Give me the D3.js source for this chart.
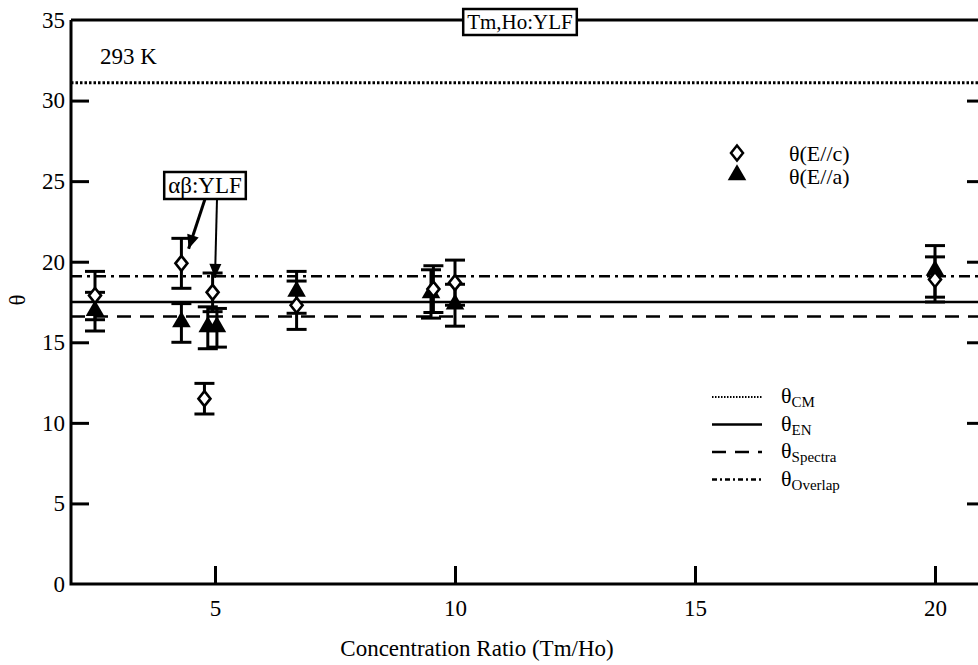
<!DOCTYPE html>
<html>
<head>
<meta charset="utf-8">
<script src="https://cdn.jsdelivr.net/npm/d3@7"></script>
<style>
  body { margin: 0; background: #fff; }
  svg text { font-family: "Liberation Serif", "Times New Roman", serif !important; fill: #000; }
</style>
</head>
<body>
<div id="chart"></div>
<script>
// concentration ratio (Tm/Ho) of each sample
var ratioC = [2.5, 4.3, 4.78, 4.95, 6.7, 9.55, 10.0, 20.0];
var ratioA = [2.5, 4.3, 4.85, 5.04, 6.7, 9.5, 10.0, 20.0];
// theta for E//c (open diamonds) and E//a (filled triangles)
var thetaC = [17.9, 19.9, 11.5, 18.1, 17.3, 18.3, 18.7, 18.9];
var thetaCErr = [1.5, 1.55, 0.95, 1.2, 1.5, 1.45, 1.4, 1.4];
var thetaA = [16.9, 16.2, 15.9, 15.9, 18.1, 18.0, 17.3, 19.4];
var thetaAErr = [1.2, 1.2, 1.3, 1.2, 1.3, 1.5, 1.3, 1.6];

// model lines
var lineNames = ["CM", "EN", "Spectra", "Overlap"];
var lineValues = [31.1, 17.5, 16.6, 19.1];

// alpha-beta:YLF points the arrows point at
var abRatio = [4.45, 5.0];
var abTheta = [20.8, 19.0];

var xTicks = [5, 10, 15, 20];
var yTicks = [0, 5, 10, 15, 20, 25, 30, 35];

var width = 978, height = 665;
var fs = "23px";
var serif = "'Liberation Serif', 'Times New Roman', serif";

var svg = d3.select("#chart").append("svg")
  .attr("width", width)
  .attr("height", height)
  .attr("font-family", serif);

var x = d3.scaleLinear().domain([2, 21]).range([71, 983]);
var y = d3.scaleLinear().domain([0, 35]).range([584, 20]);

var dashes = {
  CM: "2.5,2",
  EN: null,
  Spectra: "14,9",
  Overlap: "11,5,3,5"
};

// horizontal model lines
lineNames.forEach(function(n, i) {
  svg.append("line")
    .attr("x1", x(2)).attr("x2", x(21))
    .attr("y1", y(lineValues[i])).attr("y2", y(lineValues[i]))
    .attr("stroke", "#000")
    .attr("stroke-width", n == "CM" ? 3 : 2.6)
    .attr("stroke-dasharray", dashes[n]);
});

// frame
svg.append("path")
  .attr("d", "M" + x(2) + "," + y(35) + "H" + x(21) + "M" + x(2) + "," + y(35) + "V" + y(0) + "H" + x(21))
  .attr("fill", "none")
  .attr("stroke", "#000")
  .attr("stroke-width", 3);

// axes (ticks inward)
var yAxis = svg.append("g")
  .attr("transform", "translate(" + x(2) + ",0)")
  .call(d3.axisLeft(y).tickValues(yTicks).tickSizeInner(-18).tickSizeOuter(0).tickPadding(6))
  .attr("font-family", serif);
yAxis.select(".domain").remove();
yAxis.selectAll(".tick line").attr("stroke-width", 3)
  .filter(function(d) { return d == 0 || d == 35; }).remove();
yAxis.selectAll("text").style("font-size", fs).style("font-family", serif);

var yAxisR = svg.append("g")
  .attr("transform", "translate(" + x(21) + ",0)")
  .call(d3.axisRight(y).tickValues(yTicks.slice(1, 7)).tickSize(-16).tickFormat(""));
yAxisR.select(".domain").remove();
yAxisR.selectAll(".tick line").attr("stroke-width", 3);

var xAxis = svg.append("g")
  .attr("transform", "translate(0," + y(0) + ")")
  .call(d3.axisBottom(x).tickValues(xTicks).tickSizeInner(-18).tickSizeOuter(0).tickPadding(16))
  .attr("font-family", serif);
xAxis.select(".domain").remove();
xAxis.selectAll(".tick line").attr("stroke-width", 3);
xAxis.selectAll("text").style("font-size", fs).style("font-family", serif);

// error bars
function errBar(xs, vals, errs) {
  var g = svg.append("g").attr("stroke", "#000").attr("stroke-width", 3);
  vals.forEach(function(v, i) {
    var cx = x(xs[i]);
    g.append("line").attr("x1", cx).attr("x2", cx)
      .attr("y1", y(v - errs[i])).attr("y2", y(v + errs[i]));
    [v - errs[i], v + errs[i]].forEach(function(e) {
      g.append("line").attr("x1", cx - 10).attr("x2", cx + 10)
        .attr("y1", y(e)).attr("y2", y(e));
    });
  });
}
errBar(ratioC, thetaC, thetaCErr);
errBar(ratioA, thetaA, thetaAErr);

var tri = d3.symbol().type(d3.symbolTriangle).size(150);
var dia = "M0,-7.5L6,0L0,7.5L-6,0Z";

svg.selectAll(".tri").data(thetaA).enter().append("path")
  .attr("class", "tri")
  .attr("d", tri)
  .attr("transform", function(d, i) { return "translate(" + x(ratioA[i]) + "," + (y(d) - 1) + ")"; })
  .attr("fill", "#000");

svg.selectAll(".dia").data(thetaC).enter().append("path")
  .attr("class", "dia")
  .attr("d", dia)
  .attr("transform", function(d, i) { return "translate(" + x(ratioC[i]) + "," + y(d) + ")"; })
  .attr("fill", "#fff")
  .attr("stroke", "#000")
  .attr("stroke-width", 2.6);

// boxed label helper: text centred at (cx, baseline), box fitted round it
function boxLabel(cx, base, str, size) {
  var g = svg.append("g");
  var r = g.append("rect");
  var t = g.append("text")
    .attr("x", cx).attr("y", base)
    .attr("text-anchor", "middle").style("font-size", size)
    .text(str);
  var b = t.node().getBBox();
  r.attr("x", b.x - 4).attr("y", b.y - 1).attr("width", b.width + 8).attr("height", b.height + 2)
    .attr("fill", "#fff").attr("stroke", "#000").attr("stroke-width", 2.5);
  return b;
}

// alpha-beta:YLF box and arrows
var abB = boxLabel(205, 193, "αβ:YLF", fs);
var arrowStart = [[205, abB.y + abB.height + 1], [217, abB.y + abB.height + 1]];
abRatio.forEach(function(r, i) {
  var tx = x(r), ty = y(abTheta[i]);
  var sx = arrowStart[i][0], sy = arrowStart[i][1];
  svg.append("line")
    .attr("x1", sx).attr("y1", sy).attr("x2", tx).attr("y2", ty)
    .attr("stroke", "#000").attr("stroke-width", i == 0 ? 3 : 2);
  var ang = Math.atan2(ty - sy, tx - sx) * 180 / Math.PI;
  svg.append("path")
    .attr("d", "M0,0L-14,-6L-14,6Z")
    .attr("transform", "translate(" + tx + "," + ty + ") rotate(" + ang + ")")
    .attr("fill", "#000");
});

// Tm,Ho:YLF title box on the top border
boxLabel(520, 29, "Tm,Ho:YLF", "21px");

svg.append("text")
  .attr("x", 100).attr("y", 64)
  .style("font-size", fs)
  .text("293 K");

// point legend
var legPts = svg.append("g");
legPts.append("path").attr("d", dia)
  .attr("transform", "translate(737,153)")
  .attr("fill", "#fff").attr("stroke", "#000").attr("stroke-width", 2.5);
legPts.append("path").attr("d", tri)
  .attr("transform", "translate(737,175)")
  .attr("fill", "#000");
legPts.append("text").attr("x", 789).attr("y", 161).style("font-size", "22px").text("θ(E//c)");
legPts.append("text").attr("x", 789).attr("y", 184).style("font-size", "22px").text("θ(E//a)");

// line legend
var legLines = svg.append("g");
lineNames.forEach(function(n, i) {
  var ly = 397 + i * 27.5;
  legLines.append("line")
    .attr("x1", 712).attr("x2", 762).attr("y1", ly).attr("y2", ly)
    .attr("stroke", "#000")
    .attr("stroke-width", n == "CM" ? 2 : 2.6)
    .attr("stroke-dasharray", n == "CM" ? "1.5,1.5" : (n == "Overlap" ? "5,3,2,3" : dashes[n]));
  var t = legLines.append("text").attr("x", 781).attr("y", ly + 6).style("font-size", "22px");
  t.append("tspan").text("θ");
  t.append("tspan").attr("dy", 4).style("font-size", "15px").text(n);
});

// axis titles
svg.append("text")
  .attr("x", 477).attr("y", 656)
  .attr("text-anchor", "middle").style("font-size", fs)
  .text("Concentration Ratio (Tm/Ho)");

svg.append("text")
  .attr("transform", "translate(25,300) rotate(-90)")
  .attr("text-anchor", "middle").style("font-size", fs)
  .text("θ");
</script>
</body>
</html>
